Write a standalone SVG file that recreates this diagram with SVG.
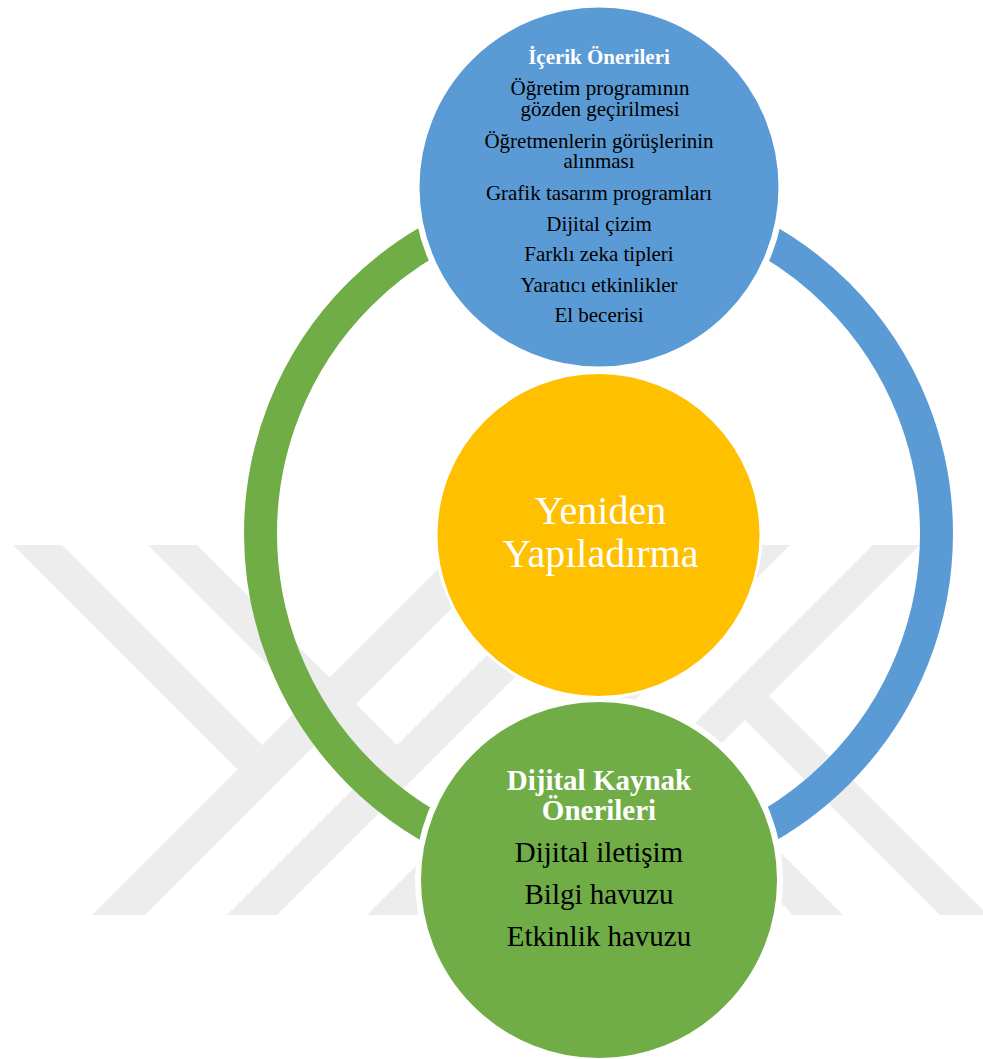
<svg xmlns="http://www.w3.org/2000/svg" width="983" height="1059" viewBox="0 0 983 1059">
<style>
.wm{fill:#EDEDED}
.arc{fill:none;stroke-width:33}
.node{stroke:#FFFFFF}
.t{font-family:"Liberation Serif","Times New Roman",serif;text-anchor:middle}
.hd{font-weight:bold;fill:#FFFFFF}
.it{fill:#000000}
</style>
<rect width="983" height="1059" fill="#FFFFFF"/>
<g id="watermark">
<polygon class="wm" points="13,545 62,545 262,745 237.5,769.5"/>
<polygon class="wm" points="462,545 515,545 145,915 92,915"/>
<polygon class="wm" points="148,545 197,545 397,745 372.5,769.5"/>
<polygon class="wm" points="597,545 647,545 277,915 227,915"/>
<polygon class="wm" points="737,545 790,545 420,915 367,915"/>
<polygon class="wm" points="873,545 920,545 550,915 503,915"/>
<polygon class="wm" points="745,720 769,696 988,915 940,915"/>
<polygon class="wm" points="606.5,728.5 631.5,703.5 843,915 793,915"/>
</g>
<g id="connectors">
<path class="arc" stroke="#70AD47" d="M598.5,195.5 A338,338 0 0 0 598.5,871.5"/>
<path class="arc" stroke="#5B9BD5" d="M598.5,195.5 A338,338 0 0 1 598.5,871.5"/>
</g>
<g id="node-icerik">
<circle class="node" cx="599" cy="187" r="182.5" fill="#5B9BD5" stroke-width="6"/>
<text class="t hd" x="599" y="63.5" font-size="21">İçerik Önerileri</text>
<text class="t it" x="600" y="94.5" font-size="21">Öğretim programının</text>
<text class="t it" x="600" y="115.5" font-size="21">gözden geçirilmesi</text>
<text class="t it" x="599" y="147.5" font-size="21">Öğretmenlerin görüşlerinin</text>
<text class="t it" x="599" y="168" font-size="21">alınması</text>
<text class="t it" x="599" y="200" font-size="21">Grafik tasarım programları</text>
<text class="t it" x="599" y="230.5" font-size="21">Dijital çizim</text>
<text class="t it" x="599" y="261" font-size="21">Farklı zeka tipleri</text>
<text class="t it" x="599" y="291.5" font-size="21">Yaratıcı etkinlikler</text>
<text class="t it" x="599" y="322" font-size="21">El becerisi</text>
</g>
<g id="node-yeniden">
<circle class="node" cx="598.5" cy="535" r="162.5" fill="#FFC000" stroke-width="3"/>
<text class="t" x="600.5" y="523.5" font-size="40" fill="#FFFFFF">Yeniden</text>
<text class="t" x="600.5" y="566.5" font-size="40" fill="#FFFFFF">Yapıladırma</text>
</g>
<g id="node-dijital">
<circle class="node" cx="599" cy="880" r="181" fill="#70AD47" stroke-width="6"/>
<text class="t hd" x="599" y="789.5" font-size="29">Dijital Kaynak</text>
<text class="t hd" x="599" y="819.5" font-size="29">Önerileri</text>
<text class="t it" x="599" y="862" font-size="29">Dijital iletişim</text>
<text class="t it" x="599" y="903.5" font-size="29">Bilgi havuzu</text>
<text class="t it" x="599" y="946" font-size="29">Etkinlik havuzu</text>
</g>
</svg>
